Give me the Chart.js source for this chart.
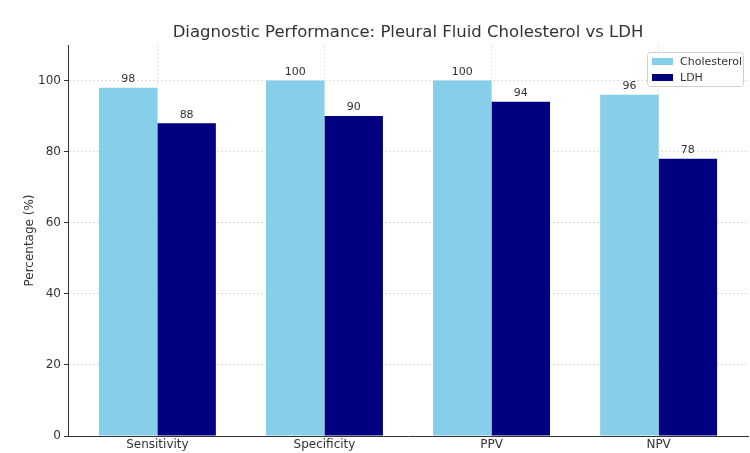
<!DOCTYPE html>
<html>
<head>
<meta charset="utf-8">
<script src="https://cdn.jsdelivr.net/npm/chart.js@4.4.0/dist/chart.umd.min.js"></script>
<style>
    html, body { margin: 0; padding: 0; background: #fff; }
    #wrap { width: 750px; height: 453px; }
</style>
</head>
<body>
<div id="wrap"><canvas id="perfChart"></canvas></div>
<script>
const metrics = ['Sensitivity', 'Specificity', 'PPV', 'NPV'];
const cholesterolValues = [98, 100, 100, 96];
const ldhValues = [88, 90, 94, 78];
const yTicks = [0, 20, 40, 60, 80, 100];

const FONT = "'DejaVu Sans', sans-serif";
const TEXT = '#333';
const TITLE = 'Diagnostic Performance: Pleural Fluid Cholesterol vs LDH';

// value labels above each bar
const barLabels = {
    id: 'barLabels',
    afterDatasetsDraw(chart) {
        const ctx = chart.ctx;
        ctx.save();
        ctx.font = '11px ' + FONT;
        ctx.fillStyle = TEXT;
        ctx.textAlign = 'center';
        ctx.textBaseline = 'bottom';
        chart.data.datasets.forEach((ds, i) => {
            chart.getDatasetMeta(i).data.forEach((bar, j) => {
                ctx.fillText(ds.data[j].y, bar.x, bar.y - 3);
            });
        });
        ctx.restore();
    }
};

// title centred over the plot area, not the canvas
const plotTitle = {
    id: 'plotTitle',
    afterDraw(chart) {
        const ctx = chart.ctx;
        const area = chart.chartArea;
        ctx.save();
        ctx.font = '16.5px ' + FONT;
        ctx.fillStyle = TEXT;
        ctx.textAlign = 'center';
        ctx.textBaseline = 'middle';
        ctx.fillText(TITLE, (area.left + area.right) / 2, 33);
        ctx.restore();
    }
};

// legend box drawn inside the plot, top right
const innerLegend = {
    id: 'innerLegend',
    afterDraw(chart) {
        const ctx = chart.ctx;
        const area = chart.chartArea;
        const w = 96, h = 34;
        const x = area.right - w - 5, y = area.top + 7;
        ctx.save();
        ctx.fillStyle = 'rgba(255,255,255,0.85)';
        ctx.strokeStyle = '#d0d0d0';
        ctx.lineWidth = 1;
        ctx.beginPath();
        ctx.roundRect(x + 0.5, y + 0.5, w, h, 3);
        ctx.fill();
        ctx.stroke();
        ctx.font = '11px ' + FONT;
        ctx.textBaseline = 'middle';
        chart.data.datasets.forEach((ds, i) => {
            const cy = y + 9 + i * 16;
            ctx.fillStyle = ds.backgroundColor;
            ctx.fillRect(x + 5, cy - 3, 21, 7);
            ctx.fillStyle = TEXT;
            ctx.fillText(ds.label, x + 33, cy + 1);
        });
        ctx.restore();
    }
};

const toPoints = vals => vals.map((v, i) => ({ x: i, y: v }));

new Chart(document.getElementById('perfChart'), {
    type: 'bar',
    data: {
        datasets: [
            {
                label: 'Cholesterol',
                data: toPoints(cholesterolValues),
                backgroundColor: '#87CEEB',
                borderWidth: 0,
                categoryPercentage: 0.7,
                barPercentage: 1
            },
            {
                label: 'LDH',
                data: toPoints(ldhValues),
                backgroundColor: '#000080',
                borderWidth: 0,
                categoryPercentage: 0.7,
                barPercentage: 1
            }
        ]
    },
    options: {
        responsive: true,
        maintainAspectRatio: false,
        animation: false,
        layout: { padding: { left: 0, right: 2, top: 45, bottom: 0 } },
        plugins: {
            legend: { display: false },
            tooltip: { enabled: false },
            title: { display: false }
        },
        scales: {
            x: {
                type: 'linear',
                offset: false,
                min: -0.535,
                max: 3.535,
                afterBuildTicks(scale) {
                    scale.ticks = metrics.map((m, i) => ({ value: i }));
                },
                grid: {
                    offset: false,
                    drawTicks: false,
                    color: '#e0e0e0'
                },
                border: { display: true, color: '#333', width: 1, dash: [2, 2] },
                ticks: {
                    color: TEXT,
                    font: { family: FONT, size: 12 },
                    padding: 2,
                    callback: v => metrics[v]
                },
                afterFit(scale) { scale.height = 17; }
            },
            y: {
                min: 0,
                max: 110,
                afterBuildTicks(scale) {
                    scale.ticks = yTicks.map(v => ({ value: v }));
                },
                grid: {
                    color: ctx => ctx.tick && ctx.tick.value === 0 ? 'transparent' : '#dcdcdc',
                    tickColor: '#333',
                    tickLength: 4
                },
                border: { display: true, color: '#333', width: 1, dash: [2, 2] },
                ticks: {
                    color: TEXT,
                    font: { family: FONT, size: 12 },
                    padding: 3
                },
                title: {
                    display: true,
                    text: 'Percentage (%)',
                    color: TEXT,
                    font: { family: FONT, size: 12 },
                    padding: { top: 23, bottom: 0 }
                },
                afterFit(scale) { scale.width = 68; }
            }
        }
    },
    plugins: [barLabels, plotTitle, innerLegend]
});
</script>
</body>
</html>
